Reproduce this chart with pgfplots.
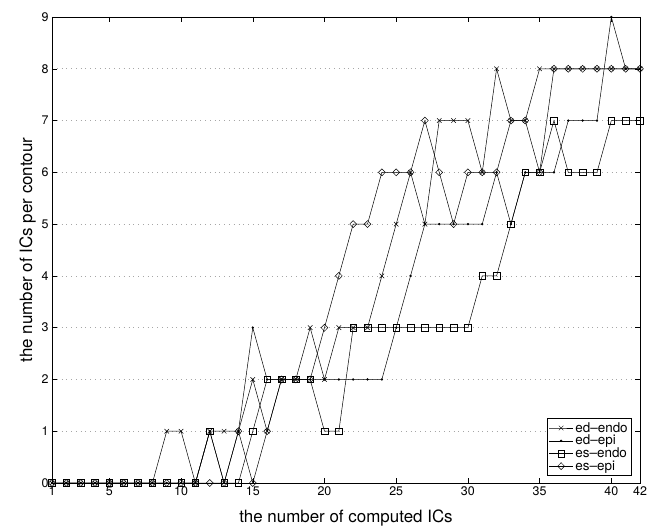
\documentclass[border=0pt]{standalone}
\usepackage{fontspec}
\setmainfont{TeX Gyre Heros}
\usepackage{pgfplots}
\usepackage{pgfplotstable}
\pgfplotsset{compat=1.18}

% x, ed-endo, ed-epi, es-endo, es-epi
\pgfplotstableread{
x  edendo edepi esendo esepi
1  0 0 0 0
2  0 0 0 0
3  0 0 0 0
4  0 0 0 0
5  0 0 0 0
6  0 0 0 0
7  0 0 0 0
8  0 0 0 0
9  1 0 0 0
10 1 0 0 0
11 0 0 0 0
12 1 1 1 0
13 1 0 0 0
14 1 1 0 1
15 2 3 1 0
16 1 2 2 1
17 2 2 2 2
18 2 2 2 2
19 3 2 2 2
20 2 2 1 3
21 3 2 1 4
22 3 2 3 5
23 3 2 3 5
24 4 2 3 6
25 5 3 3 6
26 6 4 3 6
27 5 5 3 7
28 7 5 3 6
29 7 5 3 5
30 7 5 3 6
31 6 5 4 6
32 8 6 4 6
33 7 5 5 7
34 7 6 6 7
35 8 6 6 6
36 8 6 7 8
37 8 7 6 8
38 8 7 6 8
39 8 7 6 8
40 8 9 7 8
41 8 8 7 8
42 8 8 7 8
}\ICdata

\begin{document}
\begin{tikzpicture}
\begin{axis}[
    scale only axis,
    width=588bp, height=466bp,
    xmin=1, xmax=42, ymin=0, ymax=9,
    xtick={1,5,10,15,20,25,30,35,40,42},
    ytick={0,1,...,9},
    tick align=inside,
    major tick length=5bp,
    axis line style={line width=0.6pt},
    tick style={line width=0.5pt, black},
    ymajorgrids,
    grid style={line width=0.6pt, gray!70, dash pattern=on 0.6pt off 4.2pt},
    /pgf/number format/assume math mode=true,
    ticklabel style={font=\fontsize{12.5}{14}\selectfont},
    xlabel={the number of computed ICs},
    ylabel={the number of ICs per contour},
    label style={font=\fontsize{17}{20}\selectfont},
    xlabel style={yshift=-7bp},
    ylabel style={yshift=-1bp},
    legend style={at={(1,0)}, anchor=south east, xshift=-8bp, yshift=7bp,
        draw=black, line width=0.6pt, fill=white,
        font=\fontsize{13.5}{15}\selectfont,
        inner sep=2bp, row sep=-2.5bp, legend cell align=left},
    legend image code/.code={
        \draw[mark repeat=2,mark phase=2] plot coordinates {(0bp,0bp) (12bp,0bp) (24bp,0bp)};},
    every axis plot/.append style={black, line width=0.5pt, mark options={solid, line width=0.5pt}},
]
\addplot[mark=x, mark size=3.2bp] table[x=x, y=edendo] {\ICdata};
\addlegendentry{ed--endo}
\addplot[mark=*, mark size=0.9bp] table[x=x, y=edepi] {\ICdata};
\addlegendentry{ed--epi}
\addplot[mark=square, mark size=3.3bp] table[x=x, y=esendo] {\ICdata};
\addlegendentry{es--endo}
\addplot[mark=diamond, mark size=3.5bp, mark options={xscale=1.3}] table[x=x, y=esepi] {\ICdata};
\addlegendentry{es--epi}
\end{axis}
\pgfresetboundingbox
\path[use as bounding box] ([xshift=-52bp, yshift=-48bp]current axis.south west)
    rectangle ([xshift=7bp, yshift=17bp]current axis.north east);
\end{tikzpicture}
\end{document}
